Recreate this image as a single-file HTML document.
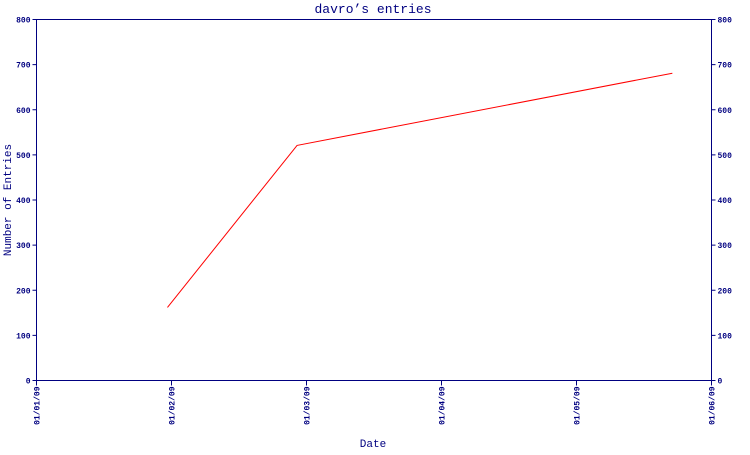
<!DOCTYPE html>
<html><head><meta charset="utf-8"><style>
body{margin:0;background:#fff;width:750px;height:450px;overflow:hidden}
text{font-family:"Liberation Mono",monospace;fill:#000080}
</style></head><body>
<svg id="chart" width="750" height="450" xmlns="http://www.w3.org/2000/svg">
<text x="373" y="13" text-anchor="middle" font-size="13">davro’s entries</text>
<text transform="translate(11,200) rotate(-90)" text-anchor="middle" font-size="11">Number of Entries</text>
<text x="373" y="447" text-anchor="middle" font-size="11">Date</text>
<g id="axes"></g>
<g id="series"></g>
</svg>
<script>
const xTickLabels=["01/01/09","01/02/09","01/03/09","01/04/09","01/05/09","01/06/09"];
const yTicks=[0,100,200,300,400,500,600,700,800];
// x positions in months since 01/01/09
const pointDates=[0.97,1.93,4.71];
const entries=[162,521,681];
const X0=36.5,X1=711.5,Y0=380.5,Y1=19.5;
const xs=m=>X0+m*(X1-X0)/(xTickLabels.length-1);
const ys=v=>Y0-v*(Y0-Y1)/800;
const NS="http://www.w3.org/2000/svg";
const axes=document.getElementById('axes'),ser=document.getElementById('series');
function mk(t,a,p){const e=document.createElementNS(NS,t);for(const k in a)e.setAttribute(k,a[k]);p.appendChild(e);return e;}
const frame=mk('rect',{x:X0,y:Y1,width:X1-X0,height:Y0-Y1,fill:'none',stroke:'#000080','stroke-width':1},axes);


yTicks.forEach(v=>{
 const y=ys(v);
 const l=mk('path',{d:`M${X0-4},${y}H${X0}M${X1},${y}H${X1+4}`,stroke:'#000080'},axes);
 
 
 const t=mk('text',{x:X0-6,y:y+3,'text-anchor':'end','font-size':'8','font-weight':'bold'},axes);t.textContent=v;
 
 
 const t2=mk('text',{x:X1+6,y:y+3,'font-size':'8','font-weight':'bold'},axes);t2.textContent=v;
 
 
});
xTickLabels.forEach((s,i)=>{
 const x=xs(i);
 const l=mk('path',{d:`M${x},${Y0}V${Y0+5}`,stroke:'#000080'},axes);
 
 
 const t=mk('text',{transform:`translate(${x+3},${Y0+6}) rotate(-90)`,'text-anchor':'end','font-size':'8','font-weight':'bold'},axes);t.textContent=s;
 
 
});
const line=mk('polyline',{points:pointDates.map((d,i)=>xs(d)+','+ys(entries[i])).join(' '),fill:'none',stroke:'#ff0000','stroke-width':1},ser);


</script>
</body></html>
